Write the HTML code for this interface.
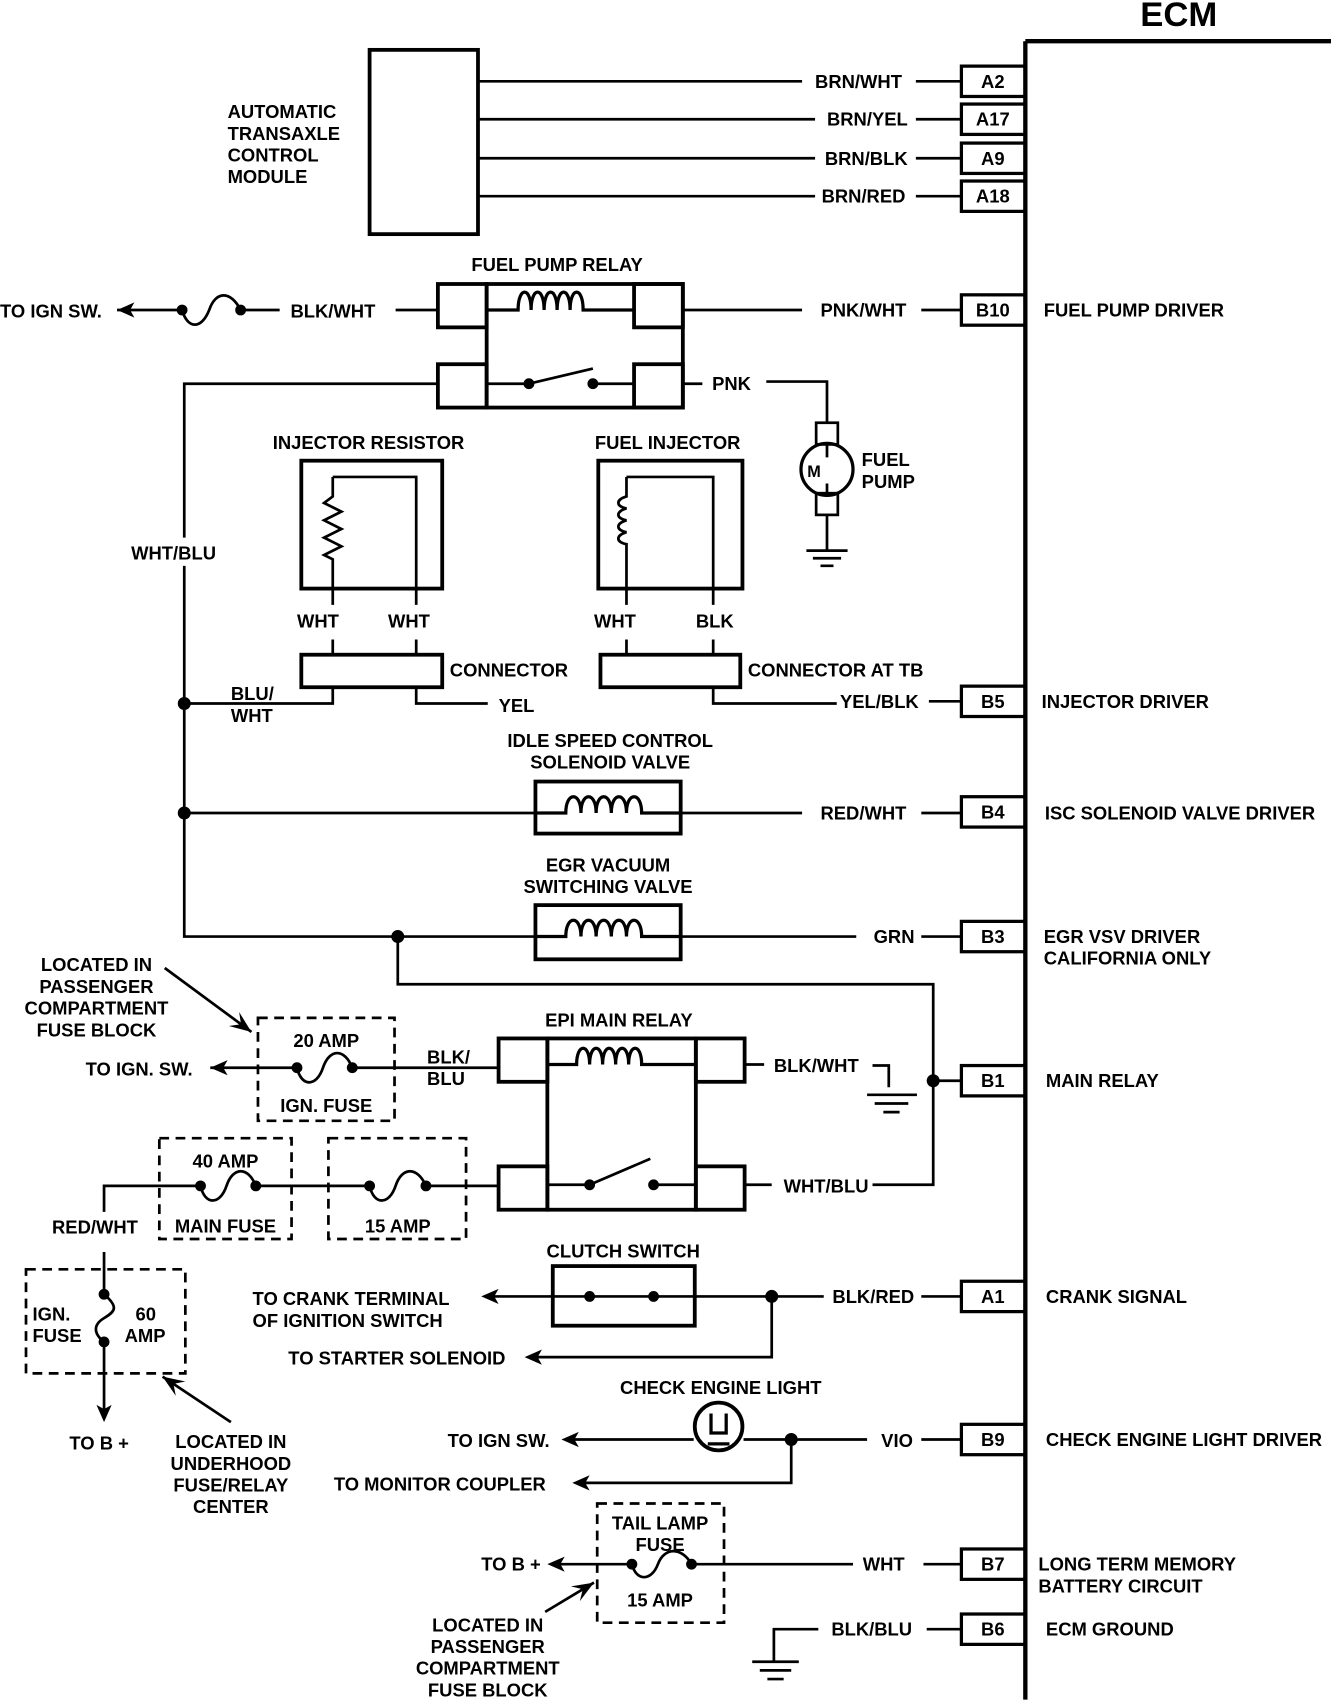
<!DOCTYPE html>
<html><head><meta charset="utf-8"><style>
html,body{margin:0;padding:0;background:#fff;}
svg{display:block;}
text{font-family:"Liberation Sans Narrow","Liberation Sans",sans-serif;font-weight:bold;font-size:17px;fill:#000;}
</style></head><body>
<svg width="1344" height="1704" viewBox="0 0 1240 1572" preserveAspectRatio="none" xmlns="http://www.w3.org/2000/svg">
<defs>
<marker id="ad" viewBox="0 0 10 10" refX="10" refY="5" markerWidth="8" markerHeight="8" orient="auto"><path d="M0,1 L10,5 L0,9 L4,5 Z" fill="#000"/></marker>
</defs>
<g fill="none" stroke="#000" stroke-width="2.5">
<path d="M946,38 V1568 M946,38 H1228" stroke-width="4"/>
<g stroke-width="3">
<rect x="887" y="61" width="59" height="28"/><rect x="887" y="96" width="59" height="28"/>
<rect x="887" y="132" width="59" height="28"/><rect x="887" y="167" width="59" height="28"/>
<rect x="887" y="272" width="59" height="28"/><rect x="887" y="633" width="59" height="28"/>
<rect x="887" y="735" width="59" height="28"/><rect x="887" y="850" width="59" height="28"/>
<rect x="887" y="983" width="59" height="28"/><rect x="887" y="1182" width="59" height="28"/>
<rect x="887" y="1314" width="59" height="28"/><rect x="887" y="1429" width="59" height="28"/>
<rect x="887" y="1489" width="59" height="28"/>
</g>
<rect x="341" y="46" width="100" height="170" stroke-width="3.5"/>
<path d="M441,75 H740 M845,75 H887 M441,110 H752 M845,110 H887 M441,146 H752 M845,146 H887 M441,181 H752 M845,181 H887"/>
<g stroke-width="3.5">
<rect x="449" y="262" width="181" height="114"/>
<rect x="404" y="262" width="45" height="40"/><rect x="404" y="336" width="45" height="40"/>
<rect x="585" y="262" width="45" height="40"/><rect x="585" y="336" width="45" height="40"/>
</g>
<path d="M449,286 H478 c0,-22 12,-22 12,0 c0,-22 12,-22 12,0 c0,-22 12,-22 12,0 c0,-22 12,-22 12,0 c0,-22 12,-22 12,0 H585" stroke-width="3"/>
<path d="M449,354 H488 M488,354 L547,340 M547,354 H585"/>
<path d="M108,286 H168 M222,286 H258 M365,286 H404 M630,286 H740 M850,286 H887" />
<path d="M168,286 c5,18 18,18 25,0 c6,-18 20,-18 29,0" stroke-width="2.5"/>
<path d="M630,354 H648 M707,352 H763 V390 M763,410 V422 M763,446 V455 M763,475 V508 M744,508 H782 M750,515 H776 M757,522 H769"/>
<rect x="753" y="390" width="20" height="20"/><rect x="753" y="455" width="20" height="20"/>
<circle cx="763" cy="433" r="24" stroke-width="3"/>
<path d="M404,354 H170 V496 M170,522 V864 H494 M170,649 H307 V634 M170,750 H494 M628,750 H740 M850,750 H887 M628,864 H790 M850,864 H887"/>
<rect x="278" y="425" width="130" height="118" stroke-width="3.5"/>
<path d="M307,440 H384 V558 M307,440 V458 l-8,6 l16,8 l-16,8 l16,8 l-16,8 l16,8 l-16,8 l8,4 V558 M307,590 V604 M384,590 V604"/>
<rect x="278" y="604" width="130" height="30" stroke-width="3.5"/>
<path d="M384,634 V649 H450"/>
<rect x="552" y="425" width="133" height="118" stroke-width="3.5"/>
<path d="M578,440 H658 V558 M578,440 V458 c-10,3 -10,9 0,11 c-10,3 -10,9 0,11 c-10,3 -10,9 0,11 c-10,3 -10,9 0,11 V558 M578,590 V604 M658,590 V604"/>
<rect x="554" y="604" width="129" height="30" stroke-width="3.5"/>
<path d="M658,634 V649 H772 M857,647 H887"/>
<rect x="494" y="721" width="134" height="48" stroke-width="3.5"/>
<path d="M494,750 H522 c0,-20 14,-20 14,0 c0,-20 14,-20 14,0 c0,-20 14,-20 14,0 c0,-20 14,-20 14,0 c0,-20 14,-20 14,0 H628" stroke-width="3"/>
<rect x="494" y="835" width="134" height="50" stroke-width="3.5"/>
<path d="M494,864 H522 c0,-20 14,-20 14,0 c0,-20 14,-20 14,0 c0,-20 14,-20 14,0 c0,-20 14,-20 14,0 c0,-20 14,-20 14,0 H628" stroke-width="3"/>
<path d="M367,864 V908 H861 V1093 H805 M861,997 H887"/>
<g stroke-width="3.5">
<rect x="505" y="958" width="137" height="158"/>
<rect x="460" y="958" width="45" height="40"/><rect x="460" y="1076" width="45" height="40"/>
<rect x="642" y="958" width="45" height="40"/><rect x="642" y="1076" width="45" height="40"/>
</g>
<path d="M505,982 H532 c0,-20 12,-20 12,0 c0,-20 12,-20 12,0 c0,-20 12,-20 12,0 c0,-20 12,-20 12,0 c0,-20 12,-20 12,0 H642" stroke-width="3"/>
<path d="M505,1093 H544 M544,1093 L600,1069 M603,1093 H642 M687,982 H705 M687,1093 H712 M805,983 H820 V1003 M800,1010 H846 M807,1018 H838 M815,1026 H830"/>
<path d="M194,985 H274 M325,985 H460"/>
<path d="M274,985 c4,18 18,18 24,0 c6,-18 20,-18 27,0"/>
<path d="M96,1118 V1094 H185 M236,1094 H341 M393,1094 H460"/>
<path d="M185,1094 c4,18 18,18 24,0 c6,-18 20,-18 27,0 M341,1094 c4,18 18,18 24,0 c6,-18 20,-18 28,0"/>
<path d="M96,1155 V1194 M96,1238 V1305"/>
<path d="M96,1194 c14,12 10,16 0,22 c-10,6 -10,14 0,22"/>
<g stroke-dasharray="9,6" stroke-width="2.5">
<rect x="238" y="939" width="126" height="95"/>
<rect x="147" y="1050" width="122" height="93"/>
<rect x="303" y="1050" width="127" height="93"/>
<rect x="24" y="1171" width="147" height="96"/>
<rect x="551" y="1387" width="117" height="110"/>
</g>
<path d="M152,893 L232,952" marker-end="url(#ad)"/>
<path d="M213,1312 L150,1270" marker-end="url(#ad)"/>
<path d="M503,1487 L548,1460" marker-end="url(#ad)"/>
<rect x="510" y="1168" width="131" height="55" stroke-width="3.5"/>
<path d="M453,1196 H760 M850,1196 H887 M712,1196 V1252 H492"/>
<path d="M525,1328 H640 M686,1328 H800 M850,1328 H887 M730,1328 V1368 H535"/>
<circle cx="663" cy="1316" r="22" stroke-width="3.5"/>
<path d="M656,1304 V1322 h14 V1304 M653,1332 H673" stroke-width="3"/>
<path d="M510,1443 H583 M638,1443 H787 M852,1443 H887"/>
<path d="M583,1443 c4,16 18,16 24,0 c6,-16 22,-16 31,0"/>
<path d="M714,1533 V1503 H755 M855,1503 H887 M694,1533 H737 M701,1541 H730 M708,1549 H723"/>
</g>
<g fill="#000">
<path d="M108,286 l16,-7 l-4,7 l4,7 Z"/>
<path d="M194,985 l16,-7 l-4,7 l4,7 Z"/>
<path d="M444,1196 l16,-7 l-4,7 l4,7 Z"/>
<path d="M484,1252 l16,-7 l-4,7 l4,7 Z"/>
<path d="M518,1328 l16,-7 l-4,7 l4,7 Z"/>
<path d="M528,1368 l16,-7 l-4,7 l4,7 Z"/>
<path d="M505,1443 l16,-7 l-4,7 l4,7 Z"/>
<path d="M96,1312 l-7,-16 l7,4 l7,-4 Z"/>
<circle cx="168" cy="286" r="5"/><circle cx="222" cy="286" r="5"/>
<circle cx="488" cy="354" r="5"/><circle cx="547" cy="354" r="5"/>
<circle cx="170" cy="649" r="6"/><circle cx="170" cy="750" r="6"/><circle cx="367" cy="864" r="6"/>
<circle cx="274" cy="985" r="5"/><circle cx="325" cy="985" r="5"/>
<circle cx="185" cy="1094" r="5"/><circle cx="236" cy="1094" r="5"/>
<circle cx="341" cy="1094" r="5"/><circle cx="393" cy="1094" r="5"/>
<circle cx="544" cy="1093" r="5"/><circle cx="603" cy="1093" r="5"/>
<circle cx="861" cy="997" r="6"/>
<circle cx="96" cy="1194" r="5"/><circle cx="96" cy="1238" r="5"/>
<circle cx="544" cy="1196" r="5"/><circle cx="603" cy="1196" r="5"/><circle cx="712" cy="1196" r="6"/>
<circle cx="730" cy="1328" r="6"/>
<circle cx="583" cy="1443" r="5"/><circle cx="638" cy="1443" r="5"/>
</g>
<text x="1052" y="24" style="font-size:32px">ECM</text>
<g text-anchor="middle">
<text x="916" y="81">A2</text><text x="916" y="116">A17</text><text x="916" y="152">A9</text><text x="916" y="187">A18</text>
<text x="916" y="292">B10</text><text x="916" y="653">B5</text><text x="916" y="755">B4</text><text x="916" y="870">B3</text>
<text x="916" y="1003">B1</text><text x="916" y="1202">A1</text><text x="916" y="1334">B9</text><text x="916" y="1449">B7</text><text x="916" y="1509">B6</text>
<text x="514" y="250">FUEL PUMP RELAY</text>
<text x="340" y="414">INJECTOR RESISTOR</text>
<text x="616" y="414">FUEL INJECTOR</text>
<text x="563" y="689">IDLE SPEED CONTROL</text><text x="563" y="709">SOLENOID VALVE</text>
<text x="561" y="804">EGR VACUUM</text><text x="561" y="824">SWITCHING VALVE</text>
<text x="571" y="947">EPI MAIN RELAY</text>
<text x="575" y="1160">CLUTCH SWITCH</text>
<text x="665" y="1286">CHECK ENGINE LIGHT</text>
<text x="301" y="966">20 AMP</text><text x="301" y="1026">IGN. FUSE</text>
<text x="208" y="1077">40 AMP</text><text x="208" y="1137">MAIN FUSE</text>
<text x="367" y="1137">15 AMP</text>
<text x="609" y="1411">TAIL LAMP</text><text x="609" y="1431">FUSE</text><text x="609" y="1482">15 AMP</text>
<text x="89" y="896">LOCATED IN</text><text x="89" y="916">PASSENGER</text><text x="89" y="936">COMPARTMENT</text><text x="89" y="956">FUSE BLOCK</text>
<text x="213" y="1336">LOCATED IN</text><text x="213" y="1356">UNDERHOOD</text><text x="213" y="1376">FUSE/RELAY</text><text x="213" y="1396">CENTER</text>
<text x="450" y="1505">LOCATED IN</text><text x="450" y="1525">PASSENGER</text><text x="450" y="1545">COMPARTMENT</text><text x="450" y="1565">FUSE BLOCK</text>
</g>
<text x="210" y="109">AUTOMATIC</text><text x="210" y="129">TRANSAXLE</text><text x="210" y="149">CONTROL</text><text x="210" y="169">MODULE</text>
<text x="752" y="81">BRN/WHT</text><text x="763" y="116">BRN/YEL</text><text x="761" y="152">BRN/BLK</text><text x="758" y="187">BRN/RED</text>
<text x="0" y="293">TO IGN SW.</text><text x="268" y="293">BLK/WHT</text>
<text x="757" y="292">PNK/WHT</text><text x="657" y="360">PNK</text>
<text x="795" y="430">FUEL</text><text x="795" y="450">PUMP</text>
<text x="121" y="516">WHT/BLU</text>
<text x="274" y="579">WHT</text><text x="358" y="579">WHT</text>
<text x="548" y="579">WHT</text><text x="642" y="579">BLK</text>
<text x="415" y="624">CONNECTOR</text><text x="690" y="624">CONNECTOR AT TB</text>
<text x="213" y="646">BLU/</text><text x="213" y="666">WHT</text>
<text x="460" y="657">YEL</text><text x="775" y="653">YEL/BLK</text>
<text x="757" y="756">RED/WHT</text><text x="806" y="870">GRN</text>
<text x="79" y="992">TO IGN. SW.</text>
<text x="394" y="981">BLK/</text><text x="394" y="1001">BLU</text>
<text x="714" y="989">BLK/WHT</text><text x="723" y="1100">WHT/BLU</text>
<text x="48" y="1138">RED/WHT</text>
<text x="30" y="1218">IGN.</text><text x="30" y="1238">FUSE</text>
<text x="125" y="1218">60</text><text x="115" y="1238">AMP</text>
<text x="233" y="1204">TO CRANK TERMINAL</text><text x="233" y="1224">OF IGNITION SWITCH</text>
<text x="266" y="1259">TO STARTER SOLENOID</text>
<text x="768" y="1202">BLK/RED</text>
<text x="64" y="1337">TO B +</text>
<text x="413" y="1335">TO IGN SW.</text><text x="813" y="1335">VIO</text>
<text x="308" y="1375">TO MONITOR COUPLER</text>
<text x="444" y="1449">TO B +</text><text x="796" y="1449">WHT</text>
<text x="767" y="1509">BLK/BLU</text>
<text x="963" y="292">FUEL PUMP DRIVER</text>
<text x="961" y="653">INJECTOR DRIVER</text>
<text x="964" y="756">ISC SOLENOID VALVE DRIVER</text>
<text x="963" y="870">EGR VSV DRIVER</text><text x="963" y="890">CALIFORNIA ONLY</text>
<text x="965" y="1003">MAIN RELAY</text>
<text x="965" y="1202">CRANK SIGNAL</text>
<text x="965" y="1334">CHECK ENGINE LIGHT DRIVER</text>
<text x="958" y="1449">LONG TERM MEMORY</text><text x="958" y="1469">BATTERY CIRCUIT</text>
<text x="965" y="1509">ECM GROUND</text>
<text x="751" y="440" text-anchor="middle" style="font-size:15px">M</text>
</svg>
</body></html>
